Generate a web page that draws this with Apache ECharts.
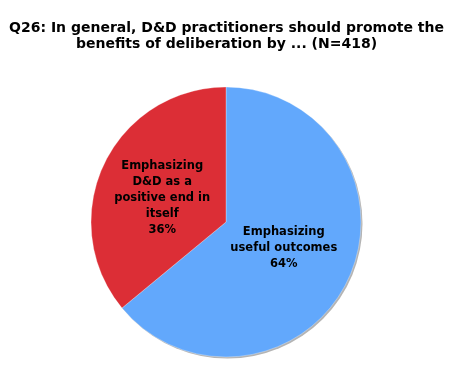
<!DOCTYPE html>
<html><head><meta charset="utf-8">
<script src="https://cdn.jsdelivr.net/npm/echarts@6/dist/echarts.min.js"></script>
<style>html,body{margin:0;padding:0;background:#fff}#c{width:453px;height:388px}</style>
</head><body><div id="c"></div>
<script>
const titleLines = ["Q26: In general, D&D practitioners should promote the", "benefits of deliberation by ... (N=418)"];
const categories = ["Emphasizing\nuseful outcomes", "Emphasizing\nD&D as a\npositive end in\nitself"];
const values = [64, 36];
const colors = ["#62a8fc", "#dc2e36"];

const labelShift = [[-6, -4], [0, 6]];

const chart = echarts.init(document.getElementById('c'), null, {renderer: 'canvas'});
chart.setOption({
  animation: false,
  title: {
    text: titleLines.join("\n"),
    left: 'center', top: 15,
    textStyle: {fontFamily: 'DejaVu Sans', fontWeight: 'bold', fontSize: 14, color: '#000', lineHeight: 16.5}
  },
  series: [{
    type: 'pie',
    silent: true,
    center: [227.5, 223.5],
    radius: [0, 135],
    data: [{value: 1, itemStyle: {color: '#b4b4b4'}}],
    label: {show: false},
    labelLine: {show: false},
    emphasis: {disabled: true},
    z: 1
  }, {
    type: 'pie',
    center: [226, 222],
    radius: [0, 135],
    startAngle: 90,
    clockwise: true,
    z: 2,
    data: categories.map((c, i) => ({
      name: c, value: values[i],
      itemStyle: {color: colors[i]},
      label: {offset: labelShift[i]}
    })),
    itemStyle: {borderColor: '#ffffff', borderWidth: 0.3},
    label: {
      position: 'inside',
      formatter: p => p.name + "\n" + p.value + "%",
      fontFamily: 'DejaVu Sans', fontWeight: 'bold', fontSize: 11.5, color: '#000', lineHeight: 16, align: 'center'
    },
    labelLine: {show: false},
    emphasis: {disabled: true}
  }]
});
</script></body></html>
